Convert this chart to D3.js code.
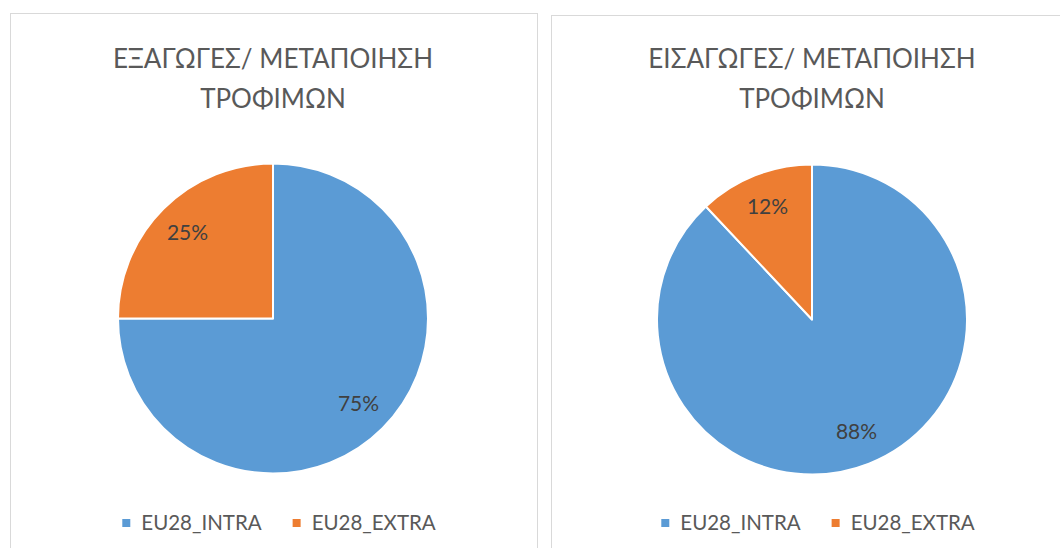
<!DOCTYPE html>
<html>
<head>
<meta charset="utf-8">
<script src="https://cdn.jsdelivr.net/npm/d3@7"></script>
<style>
  body { margin: 0; background: #fff; }
  svg text { font-family: Lato, "Open Sans", sans-serif; }
</style>
</head>
<body>
<svg width="1060" height="548"></svg>
<script>
// data
const categories = ["EU28_INTRA", "EU28_EXTRA"];
const exportShares = [75, 25];
const importShares = [88, 12];
const exportTitle = ["ΕΞΑΓΩΓΕΣ/ ΜΕΤΑΠΟΙΗΣΗ", "ΤΡΟΦΙΜΩΝ"];
const importTitle = ["ΕΙΣΑΓΩΓΕΣ/ ΜΕΤΑΠΟΙΗΣΗ", "ΤΡΟΦΙΜΩΝ"];

const color = d3.scaleOrdinal()
  .domain(categories)
  .range(["#5B9BD5", "#ED7D31"]);

const svg = d3.select("svg");

const panels = [
  { x: 10.5, y: 13.5, w: 527, cx: 273, cy: 318.5, r: 155, title: exportTitle, values: exportShares },
  { x: 551.5, y: 15.5, w: 540, cx: 812, cy: 319.5, r: 155, title: importTitle, values: importShares }
];

panels.forEach(p => {
  // chart frame
  svg.append("rect")
    .attr("x", p.x).attr("y", p.y)
    .attr("width", p.w).attr("height", 600)
    .attr("fill", "#fff")
    .attr("stroke", "#D9D9D9")
    .attr("stroke-width", 1);

  // title
  svg.append("text")
    .attr("x", p.cx)
    .attr("y", 68)
    .attr("text-anchor", "middle")
    .attr("fill", "#595959")
    .style("font-size", "26px")
    .selectAll("tspan")
    .data(p.title)
    .join("tspan")
    .attr("x", p.cx)
    .attr("dy", (d, i) => i === 0 ? 0 : 40)
    .text(d => d);

  const pie = d3.pie().sort(null).value(d => d.value);
  const arcs = pie(categories.map((c, i) => ({ name: c, value: p.values[i] })));

  const arc = d3.arc().innerRadius(0).outerRadius(p.r);
  const labelArc = d3.arc().innerRadius(p.r * 0.78).outerRadius(p.r * 0.78);

  const g = svg.append("g").attr("transform", `translate(${p.cx},${p.cy})`);

  g.selectAll("path")
    .data(arcs)
    .join("path")
    .attr("d", arc)
    .attr("fill", d => color(d.data.name))
    .attr("stroke", "#fff")
    .attr("stroke-width", 2)
    .attr("stroke-linejoin", "round");

  g.selectAll("text")
    .data(arcs)
    .join("text")
    .attr("transform", d => `translate(${labelArc.centroid(d)})`)
    .attr("text-anchor", "middle")
    .attr("dy", "0.35em")
    .attr("fill", "#404040")
    .style("font-size", "21px")
    .text(d => d.data.value + "%");

  // legend
  const leg = svg.append("g");
  let xpos = 0;
  categories.forEach((c, i) => {
    const item = leg.append("g").attr("transform", `translate(${xpos},0)`);
    item.append("rect")
      .attr("x", 0).attr("y", -11)
      .attr("width", 8).attr("height", 8)
      .attr("fill", color(c));
    const t = item.append("text")
      .attr("x", 19).attr("y", 0)
      .attr("fill", "#595959")
      .style("font-size", "20.5px")
      .text(c);
    xpos += 19 + t.node().getComputedTextLength() + 31;
  });
  const legW = xpos - 31;
  leg.attr("transform", `translate(${p.cx + 6 - legW / 2},530)`);
});
</script>
</body>
</html>
